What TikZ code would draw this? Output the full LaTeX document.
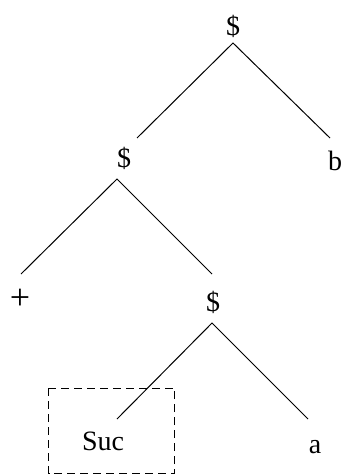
\documentclass[tikz,border=0pt]{standalone}
\usepackage{fontspec}
\setmainfont{Liberation Serif}
\begin{document}
\begin{tikzpicture}[x=1pt,y=-1pt,
  lbl/.style={anchor=base,inner sep=0pt,font=\fontsize{28}{30}\selectfont},
  big/.style={font=\fontsize{36}{40}\selectfont},
  edge/.style={line width=1pt},
  box/.style={draw,line width=1pt,dash pattern=on 8pt off 5pt}]
\useasboundingbox (0,0) rectangle (348,476);
% labels
\node[lbl] (r)   at (233,36)  {\$};
\node[lbl] (s2)  at (124,167) {\$};
\node[lbl] (b)   at (335,170) {b};
\node[lbl,big] (p) at (20,309) {+};
\node[lbl] (s3)  at (213,311) {\$};
\node[lbl] (suc) at (103,450) {Suc};
\node[lbl] (a)   at (315,453) {a};
% connector end points
\coordinate (r-top) at (233,43);
\coordinate (r-l)   at (137,138);
\coordinate (r-r)   at (330,138);
\coordinate (s2-top) at (117,179);
\coordinate (s2-l)  at (21,274);
\coordinate (s2-r)  at (212,274);
\coordinate (s3-top) at (212,323);
\coordinate (s3-l)  at (117,419);
\coordinate (s3-r)  at (308,419);
\draw[edge] (r-l) -- (r-top) -- (r-r);
\draw[edge] (s2-l) -- (s2-top) -- (s2-r);
\draw[edge] (s3-l) -- (s3-top) -- (s3-r);
% dashed box around Suc
\draw[box] (48.5,388) rectangle (174.5,473.5);
\end{tikzpicture}
\end{document}
